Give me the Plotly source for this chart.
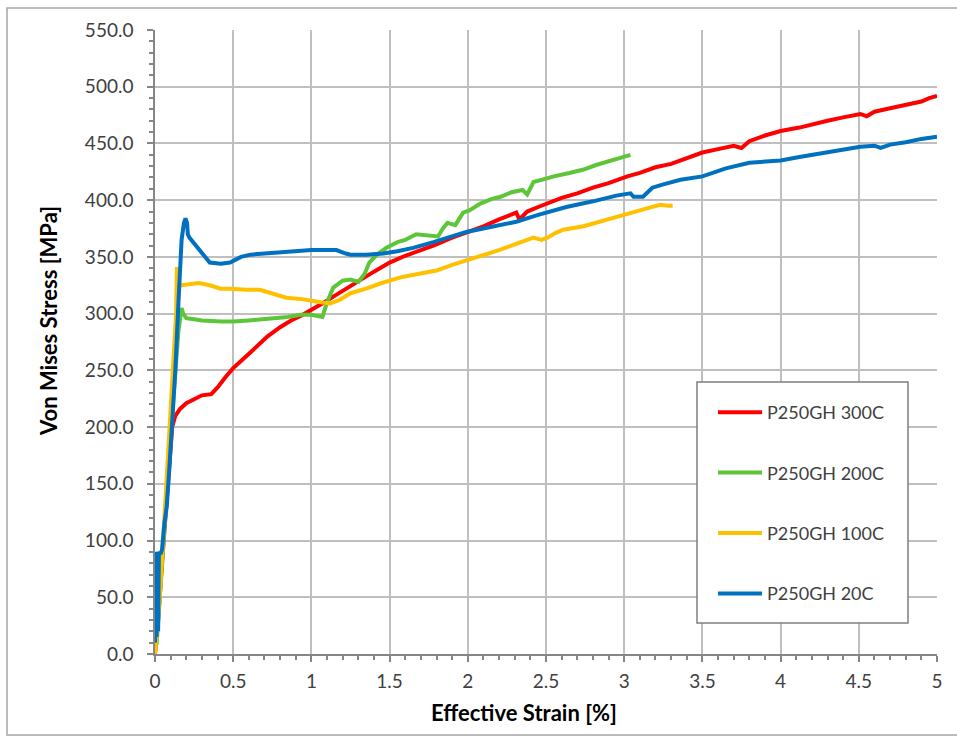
import plotly.graph_objects as go

# Effective strain [%] and von Mises stress [MPa] for P250GH at four temperatures
strain_300 = [0, 0.02, 0.05, 0.08, 0.11, 0.13, 0.16, 0.2, 0.25, 0.3, 0.36, 0.4, 0.45, 0.5,
              0.58, 0.65, 0.72, 0.8, 0.87, 0.93, 1.0, 1.07, 1.14, 1.22, 1.3, 1.4, 1.5, 1.6,
              1.7, 1.78, 1.9, 2.01, 2.1, 2.2, 2.31, 2.33, 2.38, 2.45, 2.51, 2.6, 2.7, 2.8,
              2.9, 3.02, 3.1, 3.2, 3.3, 3.4, 3.5, 3.6, 3.7, 3.75, 3.8, 3.9, 4.0, 4.12, 4.2,
              4.3, 4.4, 4.51, 4.55, 4.6, 4.7, 4.8, 4.9, 4.95, 5.0]
stress_300 = [0, 30, 90, 150, 200, 210, 216, 221, 225, 228, 229, 235, 244, 252,
              262, 271, 280, 288, 294, 298, 303, 309, 315, 322, 328, 337, 345, 351,
              356, 360, 367, 372, 377, 383, 389, 383, 390, 394, 397, 402, 406, 411,
              415, 421, 424, 429, 432, 437, 442, 445, 448, 446, 452, 457, 461, 464, 467,
              470, 473, 476, 474, 478, 481, 484, 487, 490, 492]

strain_200 = [0.01, 0.03, 0.06, 0.09, 0.12, 0.15, 0.17, 0.18, 0.2, 0.25, 0.3, 0.43, 0.5,
              0.6, 0.75, 0.85, 0.93, 1.0, 1.07, 1.1, 1.14, 1.2, 1.25, 1.3, 1.34, 1.37,
              1.42, 1.48, 1.55, 1.6, 1.67, 1.75, 1.81, 1.84, 1.87, 1.92, 1.97, 2.01,
              2.08, 2.15, 2.21, 2.28, 2.35, 2.38, 2.42, 2.5, 2.55, 2.65, 2.74, 2.82,
              2.9, 2.97, 3.04]
stress_200 = [8, 50, 110, 170, 230, 285, 305, 300, 296, 295, 294, 293, 293,
              294, 296, 297, 299, 299, 297, 310, 323, 329, 330, 328, 335, 345,
              352, 358, 363, 365, 370, 369, 368, 375, 380, 378, 389, 391,
              397, 401, 403, 407, 409, 405, 416, 419, 421, 424, 427, 431,
              434, 437, 440]

strain_100 = [0.0, 0.03, 0.06, 0.09, 0.12, 0.135, 0.14, 0.145, 0.17, 0.22, 0.28, 0.35,
              0.42, 0.48, 0.58, 0.67, 0.75, 0.84, 0.93, 1.0, 1.06, 1.12, 1.18, 1.25,
              1.35, 1.45, 1.57, 1.68, 1.8, 1.9, 1.99, 2.1, 2.2, 2.3, 2.42, 2.47, 2.51,
              2.56, 2.61, 2.74, 2.85, 2.95, 3.05, 3.15, 3.23, 3.28, 3.31]
stress_100 = [0, 50, 120, 190, 260, 300, 341, 325, 325, 326, 327, 325,
              322, 322, 321, 321, 318, 314, 313, 311, 310, 309, 312, 318,
              322, 327, 332, 335, 338, 343, 347, 351, 356, 361, 367, 365, 367,
              371, 374, 377, 381, 385, 389, 393, 396, 395, 395]

strain_20 = [0.0, 0.005, 0.01, 0.015, 0.02, 0.025, 0.035, 0.045, 0.06, 0.075, 0.09, 0.11,
             0.13, 0.15, 0.17, 0.185, 0.195, 0.205, 0.21, 0.22, 0.25, 0.29, 0.32, 0.35,
             0.42, 0.48, 0.55, 0.61, 0.7, 0.8, 0.93, 1.0, 1.1, 1.16, 1.22, 1.25, 1.35,
             1.46, 1.55, 1.65, 1.78, 1.88, 1.99, 2.1, 2.2, 2.31, 2.45, 2.63, 2.8, 2.95,
             3.04, 3.06, 3.12, 3.18, 3.25, 3.36, 3.5, 3.65, 3.8, 4.0, 4.12, 4.3, 4.51,
             4.6, 4.64, 4.7, 4.8, 4.9, 5.0]
stress_20 = [10, 90, 15, 90, 20, 90, 88, 92, 115, 130, 160, 200,
             250, 310, 365, 380, 384, 380, 370, 367, 362, 356, 350, 345,
             344, 345, 350, 352, 353, 354, 355, 356, 356, 356, 353, 352, 352,
             353, 355, 358, 363, 367, 372, 375, 378, 381, 387, 394, 399, 404,
             406, 403, 403, 411, 414, 418, 421, 428, 433, 435, 438, 442, 447,
             448, 446, 449, 451, 454, 456]

series = [
    ("P250GH 300C", strain_300, stress_300, "#FF0000"),
    ("P250GH 200C", strain_200, stress_200, "#5CC638"),
    ("P250GH 100C", strain_100, stress_100, "#FFC000"),
    ("P250GH 20C", strain_20, stress_20, "#0070C0"),
]

FONT = "Lato"
# plot area in pixels: x 155..937, y 30..654
PL, PR, PT, PB = 155, 937, 30, 654
PW, PH = PR - PL, PB - PT


def px(x):
    return (x - PL) / PW


def py(y):
    return (PB - y) / PH


fig = go.Figure()
for name, xs, ys, color in series:
    fig.add_trace(go.Scatter(
        x=xs, y=ys, mode="lines", name=name, legendgroup=name,
        line=dict(color=color, width=4),
    ))

axis_common = dict(
    showline=True, linecolor="#868686", linewidth=1.5,
    showgrid=True, gridcolor="#BFBFBF", gridwidth=1.5,
    ticks="outside", ticklen=6, tickcolor="#868686", tickwidth=1.5,
    tickfont=dict(family=FONT, size=19, color="#404040"),
    zeroline=False, mirror=False,
)

fig.update_xaxes(
    range=[0, 5], dtick=0.5, tick0=0, ticklabelstandoff=3,
    minor=dict(dtick=0.1, ticks="outside", ticklen=4, tickcolor="#868686", showgrid=False),
    **axis_common,
)
fig.update_yaxes(
    range=[0, 550], dtick=50, tick0=0, tickformat=".1f", ticklabelstandoff=10,
    minor=dict(dtick=10, ticks="outside", ticklen=4, tickcolor="#868686", showgrid=False),
    **axis_common,
)

# axis titles
fig.add_annotation(text="<b>Effective Strain [%]</b>", xref="paper", yref="paper",
                   x=px(524), y=py(712), xanchor="center", yanchor="middle",
                   showarrow=False,
                   font=dict(family=FONT, size=22, color="#000000"))
fig.add_annotation(text="<b>Von Mises Stress [MPa]</b>", xref="paper", yref="paper",
                   x=px(48), y=py(321), xanchor="center", yanchor="middle",
                   showarrow=False, textangle=-90,
                   font=dict(family=FONT, size=22, color="#000000"))

# legend frame and outer chart frame
fig.add_shape(type="rect", xref="paper", yref="paper",
              x0=px(697), x1=px(908), y0=py(623), y1=py(382),
              line=dict(color="#7F7F7F", width=1.5), fillcolor="white", layer="above")
fig.add_shape(type="rect", xref="paper", yref="paper",
              x0=px(7), x1=px(962), y0=py(735), y1=py(8),
              line=dict(color="#A6A6A6", width=1.5), fillcolor="rgba(0,0,0,0)", layer="below")

fig.update_layout(
    width=957, height=738,
    margin=dict(l=PL, r=957 - PR, t=PT, b=738 - PB),
    paper_bgcolor="white", plot_bgcolor="white",
    showlegend=True,
    legend=dict(
        x=px(713), y=py(394), xanchor="left", yanchor="top",
        bgcolor="rgba(0,0,0,0)", borderwidth=0,
        font=dict(family=FONT, size=18, color="#404040"),
        traceorder="grouped", tracegroupgap=34, itemwidth=44,
    ),
)

fig.write_html("out.html")
